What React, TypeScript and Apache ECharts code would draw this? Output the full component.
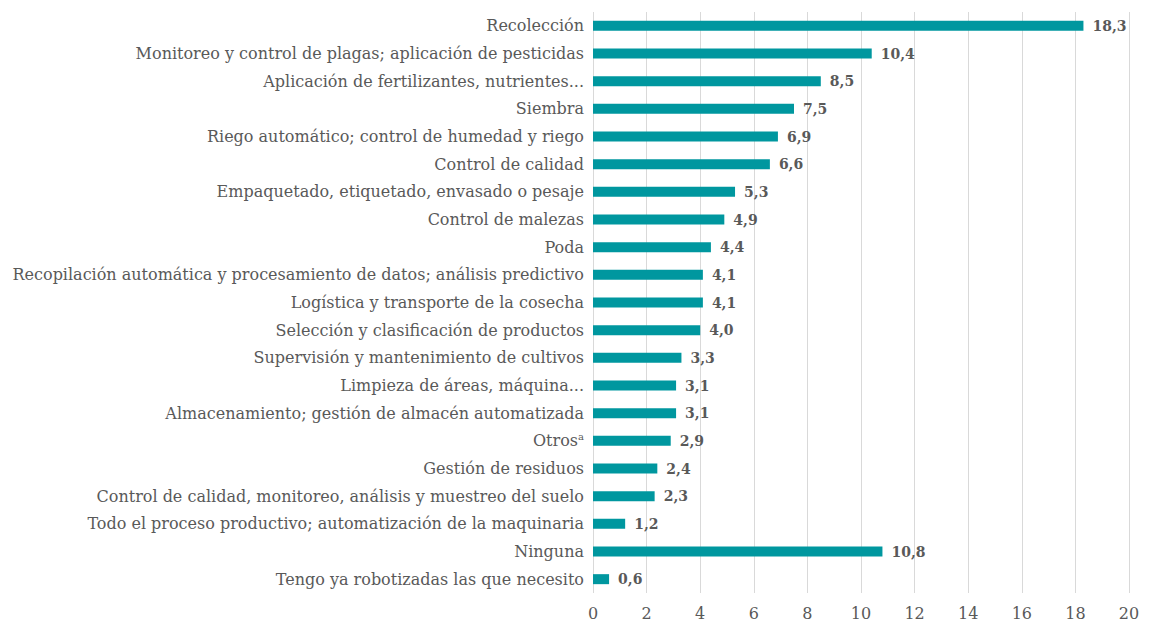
import React, { useEffect, useRef } from "react";
import * as echarts from "echarts";

const categories = [
  "Recolección",
  "Monitoreo y control de plagas; aplicación de pesticidas",
  "Aplicación de fertilizantes, nutrientes...",
  "Siembra",
  "Riego automático; control de humedad y riego",
  "Control de calidad",
  "Empaquetado, etiquetado, envasado o pesaje",
  "Control de malezas",
  "Poda",
  "Recopilación automática y procesamiento de datos; análisis predictivo",
  "Logística y transporte de la cosecha",
  "Selección y clasificación de productos",
  "Supervisión y mantenimiento de cultivos",
  "Limpieza de áreas, máquina...",
  "Almacenamiento; gestión de almacén automatizada",
  "Otros",
  "Gestión de residuos",
  "Control de calidad, monitoreo, análisis y muestreo del suelo",
  "Todo el proceso productivo; automatización de la maquinaria",
  "Ninguna",
  "Tengo ya robotizadas las que necesito",
];

const values = [18.3, 10.4, 8.5, 7.5, 6.9, 6.6, 5.3, 4.9, 4.4, 4.1, 4.1, 4.0, 3.3, 3.1, 3.1, 2.9, 2.4, 2.3, 1.2, 10.8, 0.6];

const FONT = "DejaVu Serif";

export default function App() {
  const ref = useRef<HTMLDivElement>(null);
  useEffect(() => {
    document.body.style.margin = "0";
    const chart = echarts.init(ref.current!, null, { renderer: "svg" });
    chart.setOption({
      animation: false,
      textStyle: { fontFamily: FONT },
      grid: { left: 593, right: 21, top: 12, bottom: 33 },
      xAxis: {
        type: "value",
        min: 0,
        max: 20,
        interval: 2,
        axisLine: { show: false },
        axisTick: { show: false },
        axisLabel: { color: "#595959", fontFamily: FONT, fontSize: 16, margin: 12 },
        splitLine: { lineStyle: { color: "#d9d9d9", width: 1 } },
      },
      yAxis: {
        type: "category",
        inverse: true,
        data: categories,
        axisLine: { show: false },
        axisTick: { show: false },
        axisLabel: {
          color: "#595959",
          fontFamily: FONT,
          fontSize: 16,
          margin: 9,
          formatter: (v: string) => (v === "Otros" ? "Otros{sup|a}" : v),
          rich: {
            sup: { fontSize: 10, verticalAlign: "top", color: "#595959", fontFamily: FONT, padding: [0, 0, 8, 0] },
          },
        },
      },
      series: [
        {
          type: "bar",
          data: values,
          barWidth: 10,
          itemStyle: { color: "#00979f" },
          label: {
            show: true,
            position: "right",
            distance: 9,
            color: "#595959",
            fontFamily: FONT,
            fontWeight: "bold",
            fontSize: 14,
            formatter: (p: any) => p.value.toFixed(1).replace(".", ","),
          },
        },
      ],
    });
    return () => chart.dispose();
  }, []);
  return <div ref={ref} style={{ width: 1150, height: 626 }} />;
}
